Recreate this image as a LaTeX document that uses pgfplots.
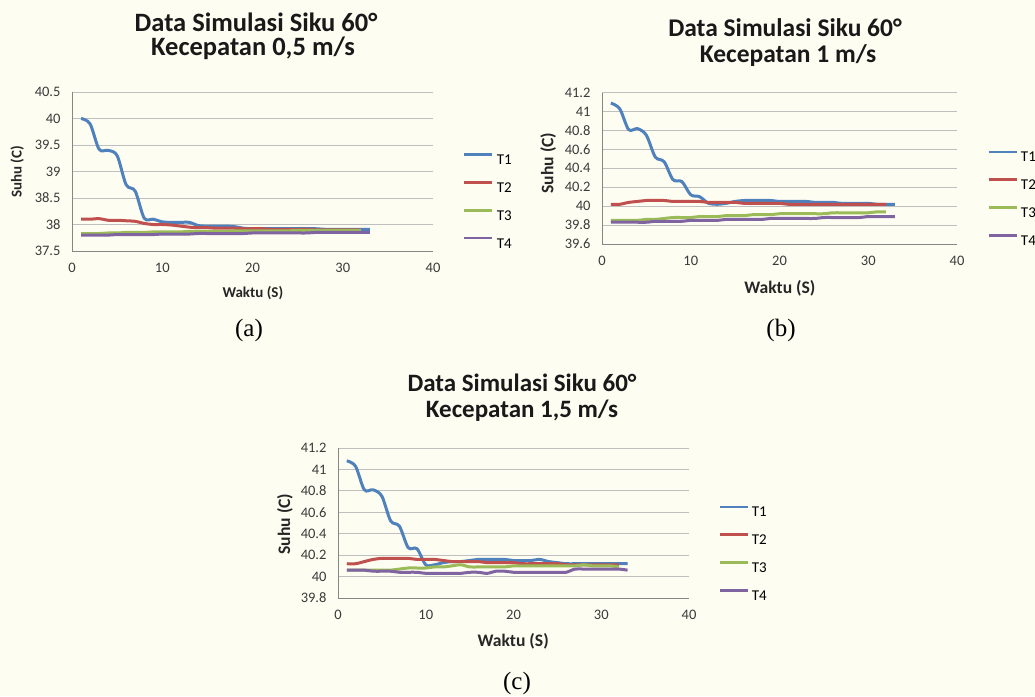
\documentclass[border=0pt]{standalone}
\usepackage{fontspec}
\setmainfont{Carlito}
\newfontfamily\timesf{Liberation Serif}
\usepackage{pgfplots}
\pgfplotsset{compat=1.18}
\definecolor{bgc}{HTML}{FEFDF2}
\definecolor{c1}{HTML}{4F81BD}
\definecolor{c2}{HTML}{C0504D}
\definecolor{c3}{HTML}{9BBB59}
\definecolor{c4}{HTML}{8064A2}
\definecolor{gridc}{HTML}{BFBFBF}
\definecolor{axisc}{HTML}{868686}
\definecolor{tickc}{HTML}{3A3A3A}
\pgfplotsset{
 mystyle/.style={
  scale only axis, axis lines=left, axis line style={-, draw=axisc, line width=0.8pt},
  major tick length=0pt, ymajorgrids, grid style={draw=gridc, line width=0.8pt},
  xmin=0,xmax=40,xtick={0,10,20,30,40},
  tick label style={font=\fontsize{14.5}{14.5}\selectfont, text=tickc},
  yticklabel style={xshift=-8pt},
  xticklabel style={yshift=-9pt},
  /pgf/number format/assume math mode=true,
  label style={font=\bfseries\fontsize{#1}{#1}\selectfont, text=black!85},
  every axis plot/.append style={smooth, line width=3pt, no markers},
  legend image code/.code={\draw[##1, line width=2.6pt] (0pt,5pt) -- (28pt,5pt);},
  legend cell align=left,
  legend style={draw=none, fill=none, inner sep=0pt, row sep=16.5pt, column sep=3pt,
    font=\fontsize{15}{15}\selectfont,
    nodes={inner sep=0pt, text height=10pt, text depth=0pt}},
 }}
\tikzset{
 ttl/.style={anchor=base, inner sep=0pt, font=\bfseries\fontsize{#1}{#1}\selectfont, text=black!90},
 mycap/.style={anchor=base, inner sep=0pt, font=\timesf\fontsize{25}{25}\selectfont}}
\begin{document}
\begin{tikzpicture}
\useasboundingbox (0,0) rectangle (1035pt,696pt);
\fill[bgc] (0,0) rectangle (1035pt,696pt);

% titles
\node[ttl=26.5] at (256pt,664pt) {Data Simulasi Siku 60°};
\node[ttl=26.5] at (253pt,640pt) {Kecepatan 0,5 m/s};
\node[ttl=25.5] at (785pt,659pt) {Data Simulasi Siku 60°};
\node[ttl=25.5] at (788pt,633pt) {Kecepatan 1 m/s};
\node[ttl=25] at (522pt,304pt) {Data Simulasi Siku 60°};
\node[ttl=25] at (522pt,278pt) {Kecepatan 1,5 m/s};
% captions
\node[mycap] at (249pt,359pt) {(a)};
\node[mycap] at (781pt,359pt) {(b)};
\node[mycap] at (517pt,7pt) {(c)};

% (a)
\begin{axis}[mystyle=15, at={(72pt,445pt)}, anchor=south west, width=361pt, height=159pt,
  ymin=37.5, ymax=40.5, ytick={37.5,38,38.5,39,39.5,40,40.5},
  xlabel={Waktu (S)}, ylabel={Suhu (C)},
  xlabel style={at={(axis description cs:0.501,-0.264)}, anchor=center},
  ylabel style={at={(axis description cs:-0.152,0.497)}, anchor=center},
  legend style={at={(axis description cs:1.083,0.615)}, anchor=north west}]
\addplot[c1] coordinates {(1,40.00) (2,39.90) (3,39.42) (4,39.40) (5,39.30) (6,38.75) (7,38.63) (8,38.12) (9,38.10) (10,38.05) (11,38.04) (12,38.04) (13,38.04) (14,37.98) (15,37.97) (16,37.97) (17,37.97) (18,37.96) (19,37.93) (20,37.92) (21,37.92) (22,37.92) (23,37.92) (24,37.92) (25,37.92) (26,37.92) (27,37.92) (28,37.91) (29,37.91) (30,37.91) (31,37.91) (32,37.91) (33,37.91)};
\addlegendentry{T1}
\addplot[c2] coordinates {(1,38.10) (2,38.10) (3,38.11) (4,38.08) (5,38.08) (6,38.07) (7,38.06) (8,38.02) (9,38.00) (10,38.00) (11,37.99) (12,37.97) (13,37.95) (14,37.94) (15,37.94) (16,37.93) (17,37.93) (18,37.93) (19,37.92) (20,37.92) (21,37.92) (22,37.91) (23,37.91) (24,37.91) (25,37.91) (26,37.91) (27,37.90) (28,37.90) (29,37.90) (30,37.90) (31,37.90) (32,37.90)};
\addlegendentry{T2}
\addplot[c3] coordinates {(1,37.83) (2,37.83) (3,37.83) (4,37.84) (5,37.84) (6,37.85) (7,37.85) (8,37.85) (9,37.86) (10,37.86) (11,37.86) (12,37.86) (13,37.87) (14,37.87) (15,37.87) (16,37.87) (17,37.87) (18,37.88) (19,37.88) (20,37.88) (21,37.88) (22,37.88) (23,37.88) (24,37.88) (25,37.89) (26,37.89) (27,37.89) (28,37.89) (29,37.89) (30,37.89) (31,37.89) (32,37.89)};
\addlegendentry{T3}
\addplot[c4] coordinates {(1,37.80) (2,37.80) (3,37.80) (4,37.80) (5,37.81) (6,37.81) (7,37.81) (8,37.81) (9,37.81) (10,37.82) (11,37.82) (12,37.82) (13,37.82) (14,37.83) (15,37.83) (16,37.83) (17,37.83) (18,37.83) (19,37.83) (20,37.84) (21,37.84) (22,37.84) (23,37.84) (24,37.84) (25,37.84) (26,37.84) (27,37.85) (28,37.85) (29,37.85) (30,37.85) (31,37.85) (32,37.85) (33,37.85)};
\addlegendentry{T4}
\end{axis}

% (b)
\begin{axis}[mystyle=17.6, at={(602pt,452pt)}, anchor=south west, width=355pt, height=151.3pt,
  ymin=39.6, ymax=41.2, ytick={39.6,39.8,40,40.2,40.4,40.6,40.8,41,41.2},
  xlabel={Waktu (S)}, ylabel={Suhu (C)},
  xlabel style={at={(axis description cs:0.501,-0.291)}, anchor=center},
  ylabel style={at={(axis description cs:-0.152,0.535)}, anchor=center},
  legend style={at={(axis description cs:1.085,0.618)}, anchor=north west}]
\addplot[c1] coordinates {(1,41.09) (2,41.03) (3,40.81) (4,40.82) (5,40.75) (6,40.52) (7,40.47) (8,40.28) (9,40.26) (10,40.12) (11,40.10) (12,40.03) (13,40.02) (14,40.03) (15,40.05) (16,40.06) (17,40.06) (18,40.06) (19,40.06) (20,40.05) (21,40.05) (22,40.05) (23,40.05) (24,40.04) (25,40.04) (26,40.04) (27,40.03) (28,40.03) (29,40.03) (30,40.03) (31,40.02) (32,40.02) (33,40.02)};
\addlegendentry{T1}
\addplot[c2] coordinates {(1,40.02) (2,40.02) (3,40.04) (4,40.05) (5,40.06) (6,40.06) (7,40.06) (8,40.05) (9,40.05) (10,40.05) (11,40.05) (12,40.04) (13,40.04) (14,40.04) (15,40.04) (16,40.03) (17,40.03) (18,40.03) (19,40.03) (20,40.03) (21,40.02) (22,40.02) (23,40.02) (24,40.02) (25,40.02) (26,40.02) (27,40.02) (28,40.02) (29,40.02) (30,40.02) (31,40.02) (32,40.02)};
\addlegendentry{T2}
\addplot[c3] coordinates {(1,39.85) (2,39.85) (3,39.85) (4,39.85) (5,39.86) (6,39.86) (7,39.87) (8,39.88) (9,39.88) (10,39.88) (11,39.89) (12,39.89) (13,39.89) (14,39.90) (15,39.90) (16,39.90) (17,39.91) (18,39.91) (19,39.91) (20,39.92) (21,39.92) (22,39.92) (23,39.92) (24,39.92) (25,39.92) (26,39.93) (27,39.93) (28,39.93) (29,39.93) (30,39.93) (31,39.94) (32,39.94)};
\addlegendentry{T3}
\addplot[c4] coordinates {(1,39.83) (2,39.83) (3,39.83) (4,39.83) (5,39.83) (6,39.84) (7,39.84) (8,39.84) (9,39.84) (10,39.85) (11,39.85) (12,39.85) (13,39.85) (14,39.86) (15,39.86) (16,39.86) (17,39.86) (18,39.86) (19,39.87) (20,39.87) (21,39.87) (22,39.87) (23,39.87) (24,39.87) (25,39.88) (26,39.88) (27,39.88) (28,39.88) (29,39.88) (30,39.89) (31,39.89) (32,39.89) (33,39.89)};
\addlegendentry{T4}
\end{axis}

% (c)
\begin{axis}[mystyle=17.6, at={(338pt,98pt)}, anchor=south west, width=351pt, height=150pt,
  ymin=39.8, ymax=41.2, ytick={39.8,40,40.2,40.4,40.6,40.8,41,41.2},
  xlabel={Waktu (S)}, ylabel={Suhu (C)},
  xlabel style={at={(axis description cs:0.499,-0.287)}, anchor=center},
  ylabel style={at={(axis description cs:-0.151,0.493)}, anchor=center},
  legend style={at={(axis description cs:1.083,0.617)}, anchor=north west}]
\addplot[c1] coordinates {(1,41.08) (2,41.03) (3,40.81) (4,40.81) (5,40.75) (6,40.52) (7,40.47) (8,40.27) (9,40.26) (10,40.11) (11,40.11) (12,40.13) (13,40.14) (14,40.14) (15,40.15) (16,40.16) (17,40.16) (18,40.16) (19,40.16) (20,40.15) (21,40.15) (22,40.15) (23,40.16) (24,40.14) (25,40.13) (26,40.12) (27,40.12) (28,40.12) (29,40.12) (30,40.12) (31,40.12) (32,40.12) (33,40.12)};
\addlegendentry{T1}
\addplot[c2] coordinates {(1,40.12) (2,40.12) (3,40.14) (4,40.16) (5,40.17) (6,40.17) (7,40.17) (8,40.17) (9,40.16) (10,40.16) (11,40.16) (12,40.15) (13,40.14) (14,40.14) (15,40.14) (16,40.14) (17,40.13) (18,40.13) (19,40.13) (20,40.13) (21,40.12) (22,40.12) (23,40.12) (24,40.12) (25,40.12) (26,40.11) (27,40.11) (28,40.11) (29,40.11) (30,40.11) (31,40.11) (32,40.11)};
\addlegendentry{T2}
\addplot[c3] coordinates {(1,40.06) (2,40.06) (3,40.06) (4,40.06) (5,40.06) (6,40.06) (7,40.07) (8,40.08) (9,40.08) (10,40.08) (11,40.09) (12,40.09) (13,40.10) (14,40.11) (15,40.09) (16,40.09) (17,40.09) (18,40.09) (19,40.09) (20,40.10) (21,40.10) (22,40.10) (23,40.10) (24,40.10) (25,40.10) (26,40.10) (27,40.10) (28,40.11) (29,40.10) (30,40.10) (31,40.10) (32,40.09)};
\addlegendentry{T3}
\addplot[c4] coordinates {(1,40.06) (2,40.06) (3,40.06) (4,40.05) (5,40.05) (6,40.05) (7,40.04) (8,40.04) (9,40.04) (10,40.03) (11,40.03) (12,40.03) (13,40.03) (14,40.03) (15,40.04) (16,40.04) (17,40.03) (18,40.05) (19,40.05) (20,40.04) (21,40.04) (22,40.04) (23,40.04) (24,40.04) (25,40.04) (26,40.04) (27,40.07) (28,40.07) (29,40.07) (30,40.07) (31,40.07) (32,40.07) (33,40.06)};
\addlegendentry{T4}
\end{axis}
\end{tikzpicture}
\end{document}
